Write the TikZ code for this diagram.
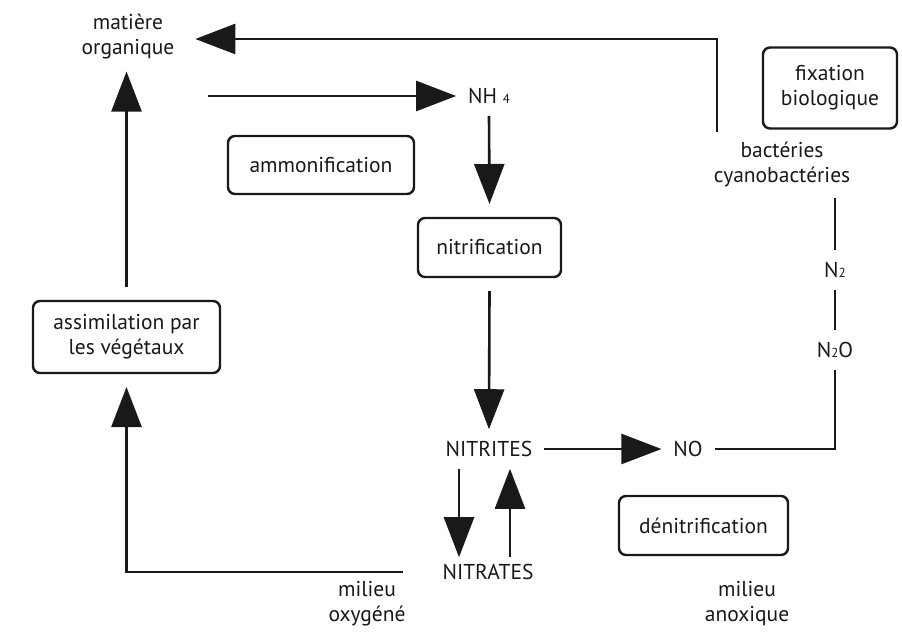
\documentclass[tikz,border=0pt]{standalone}
\usepackage{fontspec}
\setmainfont{PT Sans}
\usetikzlibrary{arrows.meta}

\begin{document}
\begin{tikzpicture}[x=1pt,y=-1pt,
		text_style/.style={inner sep=0pt,outer sep=12pt,align=center,text=black!90,font=\fontsize{21.5}{25}\selectfont},
		box_style/.style={draw=black!90,line width=2.4pt,rounded corners=7pt,outer sep=14pt,align=center,text=black!90,font=\fontsize{21.5}{25}\selectfont},
		arrow_style/.style={draw=black!90,line width=2.6pt,-{Triangle[length=40pt,width=30pt]}},
		line_style/.style={draw=black!90,line width=2.6pt}]

		\useasboundingbox (0,0) rectangle (902,634);

		\node[text_style] (mo) at (128,37) {matière\\organique};
		\node[text_style] (nh) at (489,96) {NH {\fontsize{13}{13}\selectfont 4}};
		\node[text_style] (nitrites) at (489,449) {NITRITES};
		\node[text_style] (nitrates) at (488,572) {NITRATES};
		\node[text_style] (no) at (688,449) {NO};
		\node[text_style] (n2o) at (835,350) {N{\fontsize{13}{13}\selectfont 2}O};
		\node[text_style] (n2) at (835,270) {N{\fontsize{13}{13}\selectfont 2}};
		\node[text_style] (bact) at (782,164) {bactéries\\cyanobactéries};
		\node[text_style] (oxy) at (367,604) {milieu\\oxygéné};
		\node[text_style] (anox) at (747,604) {milieu\\anoxique};

		\node[box_style,minimum width=186pt,minimum height=58pt] (ammo) at (321,165) {ammonification};
		\node[box_style,minimum width=143pt,minimum height=59pt] (nitri) at (489.5,247.5) {nitrification};
		\node[box_style,minimum width=187pt,minimum height=72pt] (assim) at (126.5,337) {assimilation par\\les végétaux};
		\node[box_style,minimum width=134pt,minimum height=81pt] (fix) at (830,88) {fixation\\biologique};
		\node[box_style,minimum width=169pt,minimum height=59pt] (deni) at (703.5,525.5) {dénitrification};

		\draw[arrow_style] ([xshift=15pt,yshift=-2pt]bact.north west) |- ([xshift=9pt,yshift=-2pt]mo.east);
		\draw[arrow_style, shorten <=22pt] (mo.east |- nh.west) -- (nh.west);
		\draw[arrow_style] (nh.south) -- (nitri.north);
		\draw[arrow_style] (nitri.south) -- (nitrites.north);
		\draw[arrow_style] (nitrites.east) -- (no.west);
		\draw[line_style] (no.east) -| (n2o.south);
		\draw[line_style] (n2o.north) -- (n2.south);
		\draw[line_style] (n2.north) -- (bact.south -| n2.north);
		\draw[arrow_style] ([xshift=-30pt]nitrites.south) -- ([xshift=-29pt,yshift=-5pt]nitrates.north);
		\draw[arrow_style] ([xshift=22pt,yshift=-5pt]nitrates.north) -- ([xshift=21pt]nitrites.south);
		\draw[arrow_style, shorten <=28pt] (nitrates.west) -| (assim.south);
		\draw[arrow_style] (assim.north) -- (assim.north |- mo.south);

\end{tikzpicture}
\end{document}
